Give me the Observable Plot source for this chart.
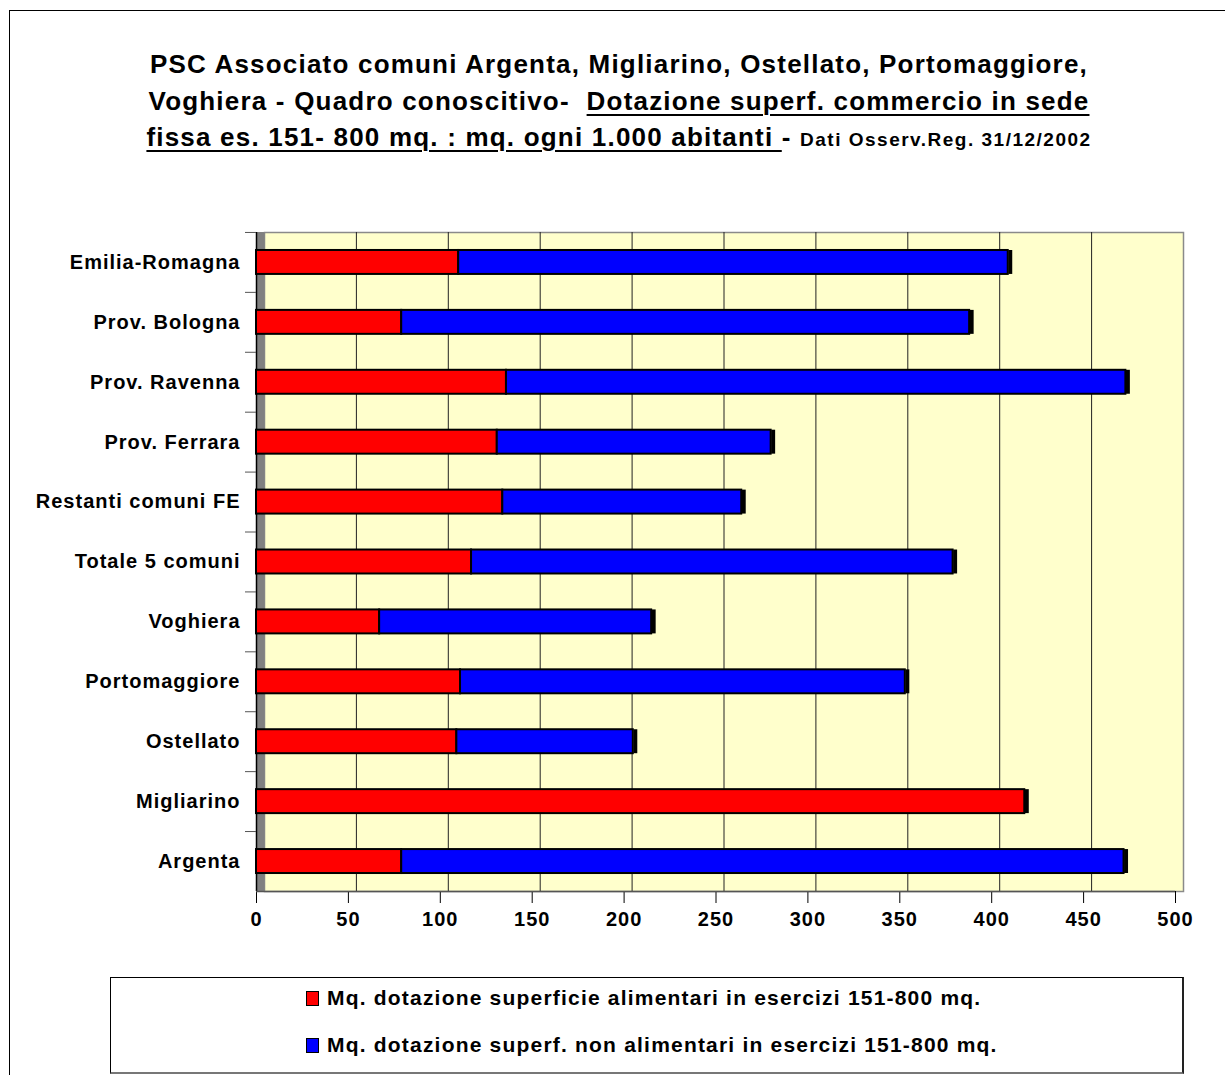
<!DOCTYPE html>
<html>
<head>
<meta charset="utf-8">
<script src="https://cdn.jsdelivr.net/npm/d3@7"></script>
<script src="https://cdn.jsdelivr.net/npm/@observablehq/plot@0.6"></script>
<style>
  html, body { margin: 0; padding: 0; background: #fff; overflow: hidden; }
  #page { position: relative; width: 1225px; height: 1075px; overflow: hidden; font-family: "Liberation Sans", Arial, sans-serif; }
  #frame { position: absolute; left: 9px; top: 10px; width: 1400px; height: 1400px; border-left: 1.5px solid #000; border-top: 1.5px solid #000; }
  #title { position: absolute; left: 13px; width: 1212px; top: 46px; text-align: center; font-weight: bold; font-size: 26px; line-height: 36.5px; color: #000; letter-spacing: 1.2px; white-space: nowrap; }
  #title .u { text-decoration: underline; text-decoration-thickness: 2px; text-underline-offset: 4px; }
  #title .small { font-size: 19px; letter-spacing: 1.5px; }
  #chart { position: absolute; left: 0; top: 200px; }
  #chart svg text { letter-spacing: 1px; }
  #legend { position: absolute; left: 110px; top: 977px; width: 1071px; height: 94px; border: 1px solid #000; border-right: 2px solid #222; border-bottom: 2px solid #777; background: #fff; }
  .li { position: absolute; left: 195px; display: flex; align-items: center; font-weight: bold; font-size: 21px; letter-spacing: 1.2px; color: #000; white-space: nowrap; }
  .sw { width: 11px; height: 13px; border: 1.5px solid #000; margin-right: 8px; }
</style>
</head>
<body>
<div id="page">
  <div id="frame"></div>
  <div id="title">PSC Associato comuni Argenta, Migliarino, Ostellato, Portomaggiore,<br>Voghiera - Quadro conoscitivo-&nbsp; <span class="u">Dotazione superf. commercio in sede</span><br><span class="u">fissa es. 151- 800 mq. : mq. ogni 1.000 abitanti </span> - <span class="small">Dati Osserv.Reg. 31/12/2002</span></div>
  <div id="chart"></div>
  <div id="legend"></div>
</div>
<script>
const categories = ["Emilia-Romagna", "Prov. Bologna", "Prov. Ravenna", "Prov. Ferrara", "Restanti comuni FE", "Totale 5 comuni", "Voghiera", "Portomaggiore", "Ostellato", "Migliarino", "Argenta"];
const alimentari = [110, 79, 136, 131, 134, 117, 67, 111, 109, 418, 79];
const nonAlimentari = [299, 309, 337, 149, 130, 262, 148, 242, 96, 0, 393];
const seriesNames = ["Mq. dotazione superficie alimentari in esercizi 151-800 mq.", "Mq. dotazione superf. non alimentari in esercizi 151-800 mq."];
const seriesColors = ["#FF0000", "#0000FF"];
const xTicks = [0, 50, 100, 150, 200, 250, 300, 350, 400, 450, 500];
const gridTicks = [50, 100, 150, 200, 250, 300, 350, 400, 450];

const rows = categories.map((c, i) => ({
  cat: c,
  a: alimentari[i],
  n: nonAlimentari[i],
  total: alimentari[i] + nonAlimentari[i]
}));

const chart = Plot.plot({
  width: 1225,
  height: 740,
  marginTop: 32,
  marginBottom: 49,
  marginLeft: 256,
  marginRight: 50,
  style: { fontFamily: "'Liberation Sans', Arial, sans-serif", fontSize: "20px", fontWeight: "bold", color: "#000", background: "transparent", overflow: "visible" },
  x: { domain: [0, 500] },
  y: { domain: categories, paddingInner: 0.6, paddingOuter: 0.3, round: false },
  marks: [
    Plot.frame({ fill: "#FFFFCC", stroke: "#8a8a8a", strokeWidth: 1.5, dx: 8 }),
    Plot.ruleX(gridTicks, { stroke: "#222", strokeWidth: 1, dx: 8 }),
    Plot.ruleX([0], { stroke: "#808080", strokeWidth: 8, dx: 4 }),
    Plot.ruleX([0], { stroke: "#000", strokeWidth: 1.5 }),
    Plot.barX(rows, { y: "cat", x1: 0, x2: "a", fill: seriesColors[0], stroke: "#000", strokeWidth: 2 }),
    Plot.barX(rows.filter(d => d.n > 0), { y: "cat", x1: "a", x2: "total", fill: seriesColors[1], stroke: "#000", strokeWidth: 2 }),
    Plot.tickX(rows, { y: "cat", x: "total", stroke: "#000", strokeWidth: 4, dx: 2 }),
    Plot.axisX({ ticks: xTicks, tickSize: 12, tickPadding: 8, tickFormat: d => String(d), stroke: "#000", fontSize: 20, fontWeight: "bold", label: null }),
    Plot.ruleY([0], { y: () => categories[categories.length - 1], stroke: "#555", strokeWidth: 1.5, dy: 30 }),
    Plot.axisY({ tickSize: 11, tickFormat: () => "", dy: -30, stroke: "#555", label: null }),
    Plot.axisY({ tickSize: 0, tickPadding: 16, fontSize: 20, fontWeight: "bold", label: null })
  ]
});
document.getElementById("chart").appendChild(chart);

const legend = document.getElementById("legend");
seriesNames.forEach((name, i) => {
  const row = document.createElement("div");
  row.className = "li";
  row.style.top = (i === 0 ? 8 : 55) + "px";
  const sw = document.createElement("span");
  sw.className = "sw";
  sw.style.background = seriesColors[i];
  const t = document.createElement("span");
  t.textContent = name;
  row.appendChild(sw);
  row.appendChild(t);
  legend.appendChild(row);
});
</script>
</body>
</html>
